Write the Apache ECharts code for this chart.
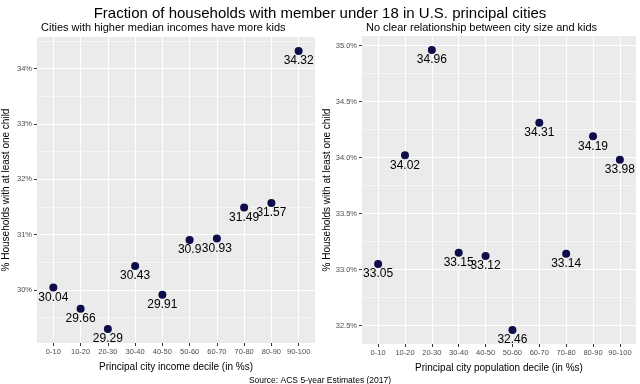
<!DOCTYPE html>
<html><head><meta charset="utf-8">
<script src="https://cdn.jsdelivr.net/npm/echarts@6/dist/echarts.min.js"></script>
<style>html,body{margin:0;padding:0;background:#fff}#c{width:640px;height:384px}</style>
</head><body><div id="c"></div>
<script>
const deciles = ['0-10','10-20','20-30','30-40','40-50','50-60','60-70','70-80','80-90','90-100'];
const incomeValues = [30.04, 29.66, 29.29, 30.43, 29.91, 30.9, 30.93, 31.49, 31.57, 34.32];
const populationValues = [33.05, 34.02, 34.96, 33.15, 33.12, 32.46, 34.31, 33.14, 34.19, 33.98];
const leftTicks = [30, 31, 32, 33, 34];
const leftMinor = [29.5, 30.5, 31.5, 32.5, 33.5, 34.5];
const rightTicks = [32.5, 33.0, 33.5, 34.0, 34.5, 35.0];
const rightMinor = [32.75, 33.25, 33.75, 34.25, 34.75];
const titleText = 'Fraction of households with member under 18 in U.S. principal cities';
const leftSubtitle = 'Cities with higher median incomes have more kids';
const rightSubtitle = 'No clear relationship between city size and kids';
const yTitle = '% Households with at least one child';
const leftXTitle = 'Principal city income decile (in %s)';
const rightXTitle = 'Principal city population decile (in %s)';
const sourceText = 'Source: ACS 5-year Estimates (2017)';

const FONT = '"Liberation Sans", Arial, sans-serif';
const xPos = deciles.map((d, i) => i + 1);

function expand(vals) {
  const mn = Math.min(...vals), mx = Math.max(...vals), r = mx - mn;
  return [mn - 0.05 * r, mx + 0.05 * r];
}
const [lMin, lMax] = expand(incomeValues);
const [rMin, rMax] = expand(populationValues);

function xAxis(gi, name) {
  return {
    type: 'value', gridIndex: gi, min: 0.4, max: 10.6,
    name: name, nameLocation: 'middle', nameGap: 19,
    nameTextStyle: { fontFamily: FONT, fontSize: 10, color: '#000' },
    axisLine: { show: false },
    axisTick: { show: true, length: 3, lineStyle: { color: '#333', width: 1 }, customValues: xPos },
    axisLabel: { customValues: xPos, formatter: v => deciles[Math.round(v) - 1], fontFamily: FONT, fontSize: 7.5, color: '#4D4D4D', margin: 5 },
    splitLine: { show: true, lineStyle: { color: '#fff', width: 1.1 } }
  };
}
function yAxis(gi, mn, mx, ticks, fmt, name, gap) {
  return {
    type: 'value', gridIndex: gi, min: mn, max: mx,
    name: name, nameLocation: 'middle', nameGap: gap,
    nameTextStyle: { fontFamily: FONT, fontSize: 10, color: '#000' },
    axisLine: { show: false },
    axisTick: { show: true, length: 3, lineStyle: { color: '#333', width: 1 }, customValues: ticks },
    axisLabel: { customValues: ticks, formatter: fmt, fontFamily: FONT, fontSize: 7.5, color: '#4D4D4D', margin: 5 },
    splitLine: { show: true, lineStyle: { color: '#fff', width: 1.1 } },
    z: 2
  };
}
function minorAxis(gi, mn, mx, ticks) {
  return {
    type: 'value', gridIndex: gi, min: mn, max: mx, position: 'left',
    axisLine: { show: false },
    axisTick: { show: false, customValues: ticks },
    axisLabel: { show: false, customValues: ticks },
    splitLine: { show: true, lineStyle: { color: '#fff', width: 0.5 } },
    z: 1
  };
}
function scatter(xi, yi, vals) {
  return {
    type: 'scatter', xAxisIndex: xi, yAxisIndex: yi,
    data: vals.map((v, i) => [xPos[i], v]),
    symbolSize: 8,
    itemStyle: { color: '#0d0d4a', opacity: 1 },
    label: {
      show: true, position: 'bottom', distance: 0,
      formatter: p => String(p.value[1]),
      fontFamily: FONT, fontSize: 12, color: '#000', lineHeight: 12
    },
    z: 5
  };
}

const chart = echarts.init(document.getElementById('c'), null, { renderer: 'canvas' });
chart.setOption({
  animation: false,
  backgroundColor: '#fff',
  title: [
    { text: titleText, left: 'center', top: 1, textStyle: { fontFamily: FONT, fontSize: 15, fontWeight: 'normal', color: '#000' } },
    { text: leftSubtitle, left: 36, top: 17, textStyle: { fontFamily: FONT, fontSize: 11, fontWeight: 'normal', color: '#000' } },
    { text: rightSubtitle, left: 361, top: 17, textStyle: { fontFamily: FONT, fontSize: 11, fontWeight: 'normal', color: '#000' } },
    { text: sourceText, left: 'center', top: 371, textStyle: { fontFamily: FONT, fontSize: 8.5, fontWeight: 'normal', color: '#000' } }
  ],
  grid: [
    { left: 37, top: 37, width: 278, height: 306, show: true, backgroundColor: '#EBEBEB', borderWidth: 0 },
    { left: 362, top: 36, width: 274, height: 308, show: true, backgroundColor: '#EBEBEB', borderWidth: 0 }
  ],
  xAxis: [xAxis(0, leftXTitle), xAxis(1, rightXTitle)],
  yAxis: [
    yAxis(0, lMin, lMax, leftTicks, v => Math.round(v) + '%', yTitle, 26),
    minorAxis(0, lMin, lMax, leftMinor),
    yAxis(1, rMin, rMax, rightTicks, v => v.toFixed(1) + '%', yTitle, 29),
    minorAxis(1, rMin, rMax, rightMinor)
  ],
  series: [scatter(0, 0, incomeValues), scatter(1, 2, populationValues)]
});
</script></body></html>
